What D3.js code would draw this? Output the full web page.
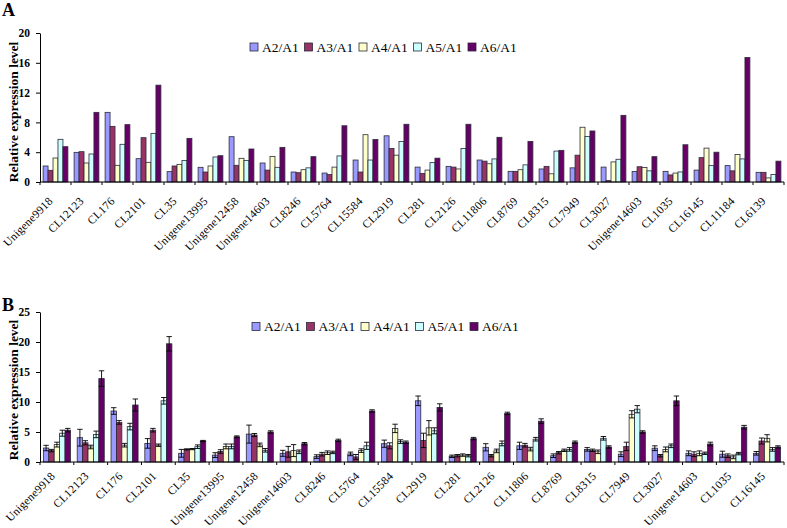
<!DOCTYPE html>
<html>
<head>
<meta charset="utf-8">
<script src="https://cdn.jsdelivr.net/npm/d3@7"></script>
<style>
  html, body { margin: 0; padding: 0; background: #fff; }
  svg { display: block; }
  text { font-family: "Liberation Serif", "Times New Roman", serif; }
</style>
</head>
<body>
<svg id="chart" width="787" height="528"></svg>
<script>
// ---------- DATA ----------
const seriesNames = ["A2/A1", "A3/A1", "A4/A1", "A5/A1", "A6/A1"];
const seriesColors = ["#9999FF", "#993366", "#FFFFCC", "#CCFFFF", "#660066"];

const categoriesA = ["Unigene9918","CL12123","CL176","CL2101","CL35","Unigene13995","Unigene12458","Unigene14603","CL8246","CL5764","CL15584","CL2919","CL281","CL2126","CL11806","CL8769","CL8315","CL7949","CL3027","Unigene14603","CL1035","CL16145","CL11184","CL6139"];
const a2A = [2.15,3.98,9.35,3.13,1.39,1.97,6.08,2.55,1.34,1.2,2.95,6.2,2.0,2.1,2.95,1.43,1.75,1.9,2.0,1.4,1.43,1.6,2.2,1.3];
const a3A = [1.57,4.07,7.47,5.95,2.15,1.34,2.24,1.6,1.25,1.0,1.34,4.5,1.15,2.0,2.8,1.43,2.1,3.6,0.2,2.05,0.95,3.27,1.5,1.3];
const a4A = [3.22,2.55,2.24,2.64,2.37,2.15,3.18,3.44,1.65,2.0,6.35,3.6,1.6,1.75,2.45,1.65,1.1,7.35,2.7,1.95,1.2,4.55,3.7,0.55];
const a5A = [5.73,3.76,5.06,6.53,2.9,3.36,2.9,1.97,1.9,3.5,2.95,5.45,2.6,4.5,3.1,2.3,4.15,6.1,3.05,1.5,1.35,2.2,3.1,1.0];
const a6A = [4.74,9.35,7.7,13.0,5.86,3.53,4.43,4.65,3.4,7.55,5.7,7.75,3.2,7.75,6.0,5.45,4.25,6.85,8.95,3.4,5.0,4.0,16.7,2.8];
const ticksA = [0,4,8,12,16,20];

const categoriesB = ["Unigene9918","CL12123","CL176","CL2101","CL35","Unigene13995","Unigene12458","Unigene14603","CL8246","CL5764","CL15584","CL2919","CL281","CL2126","CL11806","CL8769","CL8315","CL7949","CL3027","Unigene14603","CL1035","CL16145"];
const a2B = [2.33,4.05,8.5,3.1,1.45,1.15,4.65,1.45,0.9,1.35,3.05,10.2,0.95,2.45,2.7,1.05,2.1,1.3,2.3,1.45,1.3,1.45];
const a3B = [1.9,3.2,6.6,5.3,2.1,1.75,4.5,1.7,1.3,0.85,2.7,3.6,1.05,1.05,2.8,1.55,1.95,2.6,1.05,1.3,1.05,3.5];
const a4B = [2.9,2.5,2.8,2.8,2.15,2.6,2.85,1.9,1.55,1.9,5.6,5.7,1.15,1.85,2.15,1.95,1.7,7.95,2.1,1.45,0.85,3.95];
const a5B = [4.8,4.6,5.9,10.2,2.55,2.6,1.95,1.7,1.6,2.7,3.4,5.2,1.05,3.1,3.8,2.1,3.95,8.8,2.7,1.45,1.4,2.1];
const a6B = [5.3,13.9,9.5,19.7,3.5,4.2,5.0,3.05,3.6,8.5,3.3,9.1,3.9,8.1,6.8,3.3,2.5,5.0,10.2,3.0,5.8,2.5];
const e2B = [0.45,1.4,0.55,0.8,0.65,0.4,1.5,0.5,0.3,0.3,0.6,0.8,0.2,0.6,0.6,0.3,0.3,0.4,0.4,0.4,0.5,0.3];
const e3B = [0.2,0.35,0.3,0.3,0.1,0.3,0.25,0.9,0.3,0.4,0.5,1.2,0.2,0.2,0.3,0.2,0.2,0.7,0.2,0.4,0.3,0.5];
const e4B = [0.4,0.3,0.3,0.2,0.1,0.4,0.3,1.0,0.3,0.3,0.7,1.2,0.2,0.3,0.3,0.2,0.3,0.6,0.4,0.4,0.3,0.6];
const e5B = [0.5,0.55,0.55,0.55,0.3,0.4,0.3,0.3,0.2,0.6,0.3,0.5,0.2,0.4,0.3,0.3,0.3,0.6,0.3,0.2,0.2,0.3];
const e6B = [0.3,1.3,1.0,1.2,0.1,0.15,0.2,0.2,0.2,0.2,0.2,0.6,0.2,0.2,0.4,0.2,0.2,0.2,0.8,0.3,0.3,0.2];
const ticksB = [0,5,10,15,20,25];

// ---------- DRAW ----------
const svg = d3.select("#chart");

function drawPanel(cfg) {
  const g = svg.append("g");
  const x = d3.scaleBand().domain(d3.range(cfg.categories.length)).range([cfg.left, cfg.right]).paddingInner(0).paddingOuter(0);
  const xs = d3.scaleBand().domain(d3.range(seriesNames.length)).range([x.bandwidth()*0.1, x.bandwidth()*0.9]).padding(0);
  const y = d3.scaleLinear().domain([0, cfg.ymax]).range([cfg.bottom, cfg.top]);

  // bars
  cfg.series.forEach((vals, si) => {
    g.append("g").selectAll("rect").data(vals).join("rect")
      .attr("x", (d, i) => x(i) + xs(si))
      .attr("y", d => y(d))
      .attr("width", xs.bandwidth())
      .attr("height", d => y(0) - y(d))
      .attr("fill", seriesColors[si])
      .attr("stroke", "#2a2a3a")
      .attr("stroke-width", 0.8);
  });

  // error bars
  if (cfg.errors) {
    cfg.errors.forEach((errs, si) => {
      const eg = g.append("g").attr("stroke", "#000").attr("stroke-width", 0.9).attr("fill", "none");
      errs.forEach((e, i) => {
        const v = cfg.series[si][i];
        const cx = x(i) + xs(si) + xs.bandwidth() / 2;
        const hw = xs.bandwidth() / 2;
        eg.append("line").attr("x1", cx).attr("x2", cx).attr("y1", y(v + e)).attr("y2", y(Math.max(0, v - e)));
        eg.append("line").attr("x1", cx - hw).attr("x2", cx + hw).attr("y1", y(v + e)).attr("y2", y(v + e));
        if (v - e > 0) eg.append("line").attr("x1", cx - hw).attr("x2", cx + hw).attr("y1", y(v - e)).attr("y2", y(v - e));
      });
    });
  }

  // y axis
  const ya = g.append("g").attr("transform", `translate(${cfg.left},0)`)
    .call(d3.axisLeft(y).tickValues(cfg.ticks).tickSize(4).tickSizeOuter(0).tickPadding(6));
  ya.selectAll("path,line").attr("stroke", "#000").attr("stroke-width", 1);
  ya.selectAll("text").attr("font-family", "Liberation Serif, serif").attr("font-weight", "bold").attr("font-size", 11.5).attr("fill", "#000");

  // x axis baseline
  g.append("line").attr("x1", cfg.left).attr("x2", cfg.right).attr("y1", y(0)).attr("y2", y(0)).attr("stroke", "#000").attr("stroke-width", 1);
  // boundary ticks
  g.append("g").selectAll("line").data(d3.range(cfg.categories.length + 1)).join("line")
    .attr("x1", i => i < cfg.categories.length ? x(i) : cfg.right)
    .attr("x2", i => i < cfg.categories.length ? x(i) : cfg.right)
    .attr("y1", y(0)).attr("y2", y(0) + 3)
    .attr("stroke", "#000").attr("stroke-width", 1);

  // category labels
  g.append("g").selectAll("text").data(cfg.categories).join("text")
    .attr("transform", (d, i) => `translate(${x(i) + x.bandwidth()/2 + cfg.labelDx},${y(0) + cfg.labelDy}) rotate(-45)`)
    .attr("text-anchor", "end")
    .attr("dy", "0.35em")
    .attr("font-size", 11.5)
    .attr("letter-spacing", 0.2)
    .attr("fill", "#000")
    .text(d => d);

  // y title
  g.append("text")
    .attr("transform", `translate(${cfg.titleX},${cfg.titleY}) rotate(-90)`)
    .attr("text-anchor", "middle")
    .attr("dy", "0.35em")
    .attr("font-size", 13.5)
    .attr("font-weight", "bold")
    .attr("fill", "#000")
    .text("Relative expression level");

  // legend
  const lg = g.append("g");
  seriesNames.forEach((name, si) => {
    const lx = cfg.legendX + si * 54.5;
    lg.append("rect").attr("x", lx).attr("y", cfg.legendY - 4).attr("width", 8).attr("height", 8)
      .attr("fill", seriesColors[si]).attr("stroke", "#2a2a3a").attr("stroke-width", 0.8);
    lg.append("text").attr("x", lx + 12).attr("y", cfg.legendY).attr("dy", "0.35em")
      .attr("font-size", 13.5).attr("fill", "#000").text(name);
  });

  // panel letter
  g.append("text").attr("x", 2).attr("y", cfg.letterY)
    .attr("font-family", "Liberation Sans, Arial, sans-serif")
    .attr("font-weight", "bold").attr("font-size", 18).attr("fill", "#000")
    .text(cfg.letter);
}

drawPanel({
  categories: categoriesA, series: [a2A, a3A, a4A, a5A, a6A], errors: null,
  left: 40, right: 784, top: 33, bottom: 182, ymax: 20, ticks: ticksA,
  labelDx: -5, labelDy: 17, titleX: 13, titleY: 112, legendX: 250, legendY: 47, letter: "A", letterY: 16
});

drawPanel({
  categories: categoriesB, series: [a2B, a3B, a4B, a5B, a6B], errors: [e2B, e3B, e4B, e5B, e6B],
  left: 40, right: 784, top: 312, bottom: 462, ymax: 25, ticks: ticksB,
  labelDx: -4, labelDy: 12, titleX: 13, titleY: 390, legendX: 252, legendY: 326.5, letter: "B", letterY: 311
});
</script>
</body>
</html>
